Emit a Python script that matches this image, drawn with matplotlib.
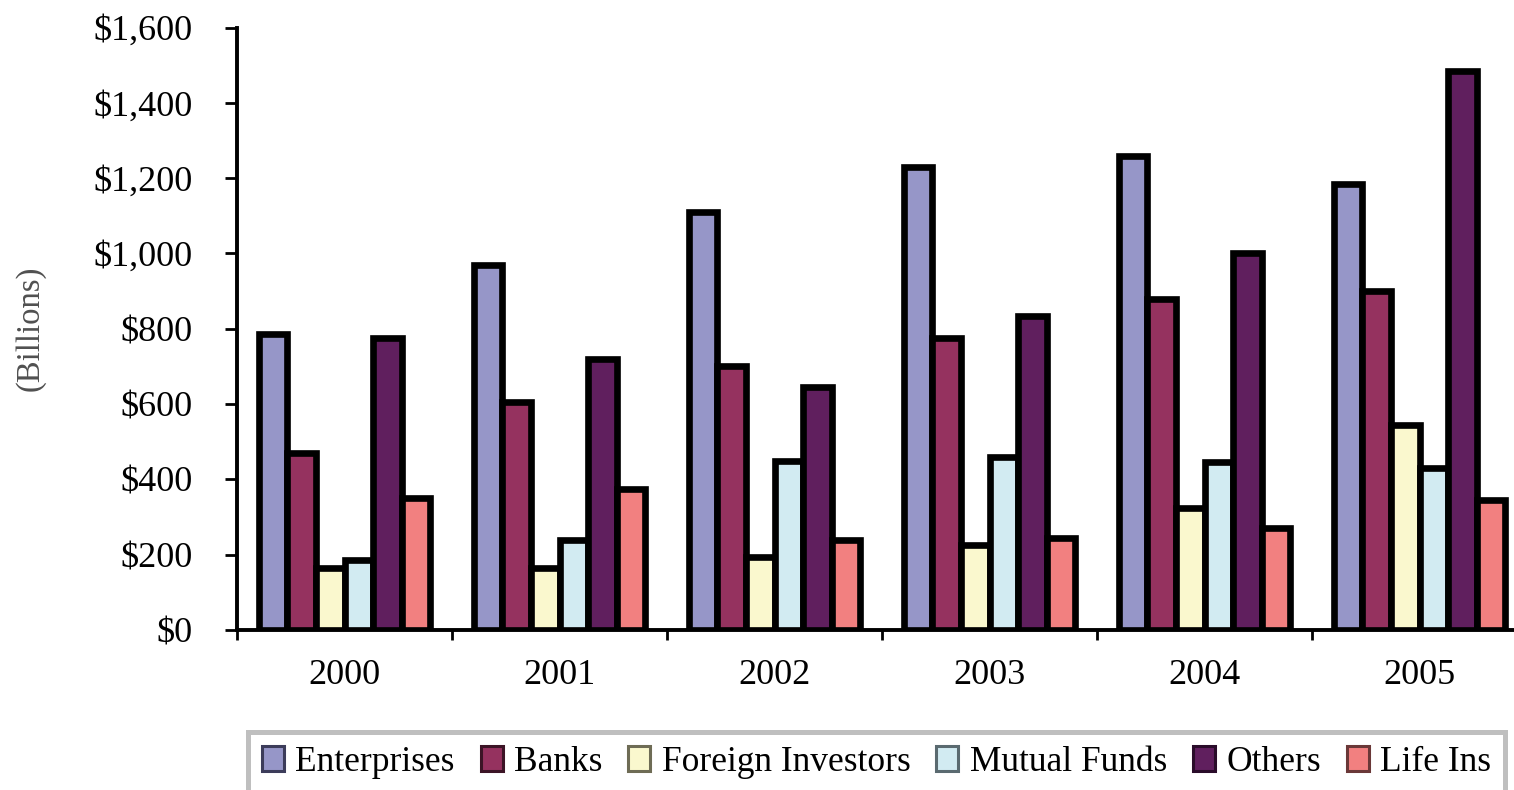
import numpy as np
import matplotlib
matplotlib.use("Agg")
import matplotlib.pyplot as plt
from matplotlib.patches import Patch
from matplotlib.ticker import FixedLocator

plt.rcParams['font.family'] = ['Liberation Serif', 'DejaVu Serif']

years = ["2000", "2001", "2002", "2003", "2004", "2005"]
series_names = ["Enterprises", "Banks", "Foreign Investors", "Mutual Funds", "Others", "Life Ins"]
enterprises = [785, 970, 1110, 1230, 1260, 1185]
banks = [470, 605, 700, 775, 880, 900]
foreign_investors = [165, 165, 195, 225, 325, 545]
mutual_funds = [185, 240, 450, 460, 445, 430]
others = [775, 720, 645, 835, 1000, 1485]
life_ins = [350, 375, 240, 245, 270, 345]
colors = ["#9696C8", "#95325F", "#FAF8CE", "#D2EBF2", "#601F5E", "#F28080"]
edge_colors = ["#3C3C5A", "#3C1426", "#6E6C55", "#5A6A70", "#2A0C2A", "#6A3838"]
yticks = [0, 200, 400, 600, 800, 1000, 1200, 1400, 1600]

all_series = [enterprises, banks, foreign_investors, mutual_funds, others, life_ins]

fig = plt.figure(figsize=(15.14, 7.9), dpi=100)
ax = fig.add_axes([237/1514, 1-630/790, 1-237/1514, (630-27.5)/790])

x = np.arange(len(years))
w = 0.1326
for i, vals in enumerate(all_series):
    ax.bar(x + (i - 2.5) * w, vals, w, color=colors[i], edgecolor='black',
           linewidth=4.8, zorder=2)

ax.set_xlim(-0.5, -0.5 + (1514-237)/215)
ax.set_ylim(0, 1600)

for s in ['top', 'right']:
    ax.spines[s].set_visible(False)
for s in ['left', 'bottom']:
    ax.spines[s].set_linewidth(2.8)
    ax.spines[s].set_zorder(3)

ax.set_yticks(yticks)
ax.set_yticklabels(["$" + f"{v:,}" for v in yticks])
ax.tick_params(axis='y', direction='out', length=9, width=2, pad=23,
               labelsize=26, colors='black')

ax.set_xticks(x)
ax.set_xticklabels(years)
ax.xaxis.set_minor_locator(FixedLocator(np.arange(-0.5, 6.0, 1.0)))
ax.tick_params(axis='x', which='major', length=0, pad=21, labelsize=26)
ax.tick_params(axis='x', which='minor', direction='out', length=7.5, width=2)

fig.text(30/1514, 1-328/790, "(Billions)", rotation=90, ha='center', va='center',
         fontsize=23.5, color='#505050')

handles = [Patch(facecolor=colors[i], edgecolor=edge_colors[i], linewidth=2.2)
           for i in range(len(series_names))]
leg = fig.legend(handles, series_names, loc='upper left',
                 bbox_to_anchor=(248/1514, 0, (1505-248)/1514, 1-732/790),
                 mode='expand', ncol=6, frameon=True, fancybox=False,
                 fontsize=25.5, handlelength=0.62, handleheight=0.7,
                 handletextpad=0.32, columnspacing=0.4, borderpad=0.4,
                 borderaxespad=0)
leg.get_frame().set_edgecolor('#AFAFAF')
leg.get_frame().set_linewidth(3.6)

fig.savefig("out.png", dpi=100)
